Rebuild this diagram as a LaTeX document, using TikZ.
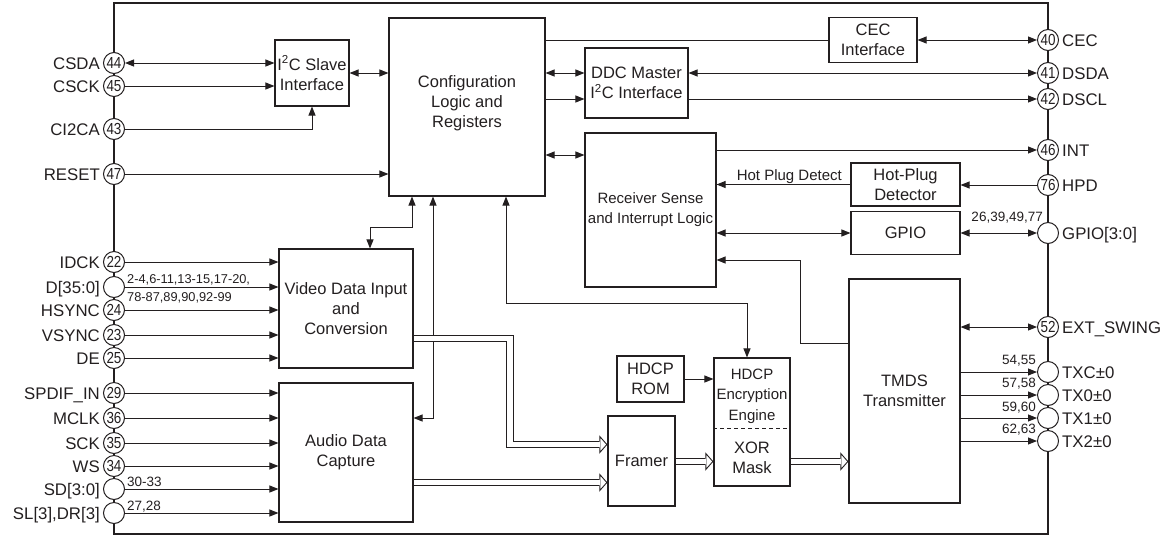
\documentclass[tikz,border=0pt]{standalone}
\usepackage{fontspec}
\setmainfont{Liberation Sans}
\newfontfamily\pinnumfont[FakeStretch=0.84]{Liberation Sans}
\usetikzlibrary{arrows.meta,positioning}
\definecolor{ink}{RGB}{35,31,32}
\begin{document}
\begin{tikzpicture}[x=1pt,y=-1pt,
  every node/.style={text=ink},
  blk/.style={draw=ink, line width=1.1pt, align=center, inner sep=0pt, font=\fontsize{16.5}{20}\selectfont},
  txt/.style={inner sep=0pt, align=center, font=\fontsize{16.5}{20}\selectfont},
  pincirc/.style={circle, draw=ink, line width=1pt, fill=white, minimum size=21pt, inner sep=0pt, font=\pinnumfont\fontsize{16}{16}\selectfont},
  lbl/.style={inner sep=0pt, font=\fontsize{16.8}{20}\selectfont, text height=12pt, text depth=0pt},
  num/.style={inner sep=0pt, font=\fontsize{13.5}{14}\selectfont},
  conn/.style={draw=ink, line width=1pt},
  hollow/.style={
    postaction={draw=ink, line width=0.9pt, -{Triangle[open,length=8pt,width=18pt]}},
    postaction={draw=ink, line width=7.8pt, shorten >=8pt},
    postaction={draw=white, line width=5.8pt, shorten >=7.2pt, shorten <=0.8pt}},
  >={Triangle[length=9pt,width=7pt]},
]
\useasboundingbox (0,0) rectangle (1166,536);
\draw[ink, line width=1.3pt] (114,3) rectangle (1048,534);

% blocks
\node[blk, minimum width=74pt, minimum height=66pt] (i2c) at (312,73) {I\textsuperscript{2}C Slave\\Interface};
\node[blk, minimum width=156pt, minimum height=178pt] (config) at (467,107) {};
\node[txt] (configtxt) at (467,103) {Configuration\\Logic and\\Registers};
\node[blk, minimum width=88pt, minimum height=45pt] (cec) at (873,40) {CEC\\Interface};
\node[blk, minimum width=103pt, minimum height=70pt] (ddc) at (636.5,83) {DDC Master\\I\textsuperscript{2}C Interface};
\node[blk, minimum width=131pt, minimum height=154pt, font=\fontsize{15}{20}\selectfont] (recv) at (650.5,210) {Receiver Sense\\and Interrupt Logic};
\node[blk, minimum width=109pt, minimum height=43pt] (hpdet) at (905.5,184.5) {Hot-Plug\\Detector};
\node[blk, minimum width=109pt, minimum height=43pt] (gpio) at (905.5,233) {GPIO};
\node[blk, minimum width=111pt, minimum height=224pt] (tmds) at (904.5,391) {TMDS\\Transmitter};
\node[blk, minimum width=134pt, minimum height=119pt] (video) at (346,308.5) {Video Data Input\\and\\Conversion};
\node[blk, minimum width=134pt, minimum height=139pt] (audio) at (346,452.5) {Audio Data\\Capture};
\node[blk, minimum width=67pt, minimum height=46pt] (rom) at (650.5,379) {HDCP\\ROM};
\node[blk, minimum width=76pt, minimum height=128pt] (enc) at (752,422) {};
\node[txt, font=\fontsize{15}{20.5}\selectfont] (enctxt) at (752,396) {HDCP\\Encryption\\Engine};
\node[txt] (xortxt) at (752,458) {XOR\\Mask};
\node[blk, minimum width=67pt, minimum height=90pt] (framer) at (641.5,461) {Framer};
\draw[ink, line width=0.9pt, dash pattern=on 4pt off 3pt] (enc.west |- 0,428) -- (enc.east |- 0,428);

% left pins
\node[pincirc] (p44) at (114,63) {44};
\node[pincirc] (p45) at (114,86) {45};
\node[pincirc] (p43) at (114,129) {43};
\node[pincirc] (p47) at (114,174) {47};
\node[pincirc] (p22) at (114,262) {22};
\node[pincirc] (pD) at (114,287) {};
\node[pincirc] (p24) at (114,310) {24};
\node[pincirc] (p23) at (114,335) {23};
\node[pincirc] (p25) at (114,358) {25};
\node[pincirc] (p29) at (114,393) {29};
\node[pincirc] (p36) at (114,418) {36};
\node[pincirc] (p35) at (114,443) {35};
\node[pincirc] (p34) at (114,466) {34};
\node[pincirc] (pSD) at (114,489) {};
\node[pincirc] (pSL) at (114,513) {};

\node[lbl, left=3pt of p44] (l44) {CSDA};
\node[lbl, left=3pt of p45] (l45) {CSCK};
\node[lbl, left=3pt of p43] (l43) {CI2CA};
\node[lbl, left=3pt of p47] (l47) {RESET};
\node[lbl, left=3pt of p22] (l22) {IDCK};
\node[lbl, left=3pt of pD] (lD) {D[35:0]};
\node[lbl, left=3pt of p24] (l24) {HSYNC};
\node[lbl, left=3pt of p23] (l23) {VSYNC};
\node[lbl, left=3pt of p25] (l25) {DE};
\node[lbl, left=3pt of p29] (l29) {SPDIF\_IN};
\node[lbl, left=3pt of p36] (l36) {MCLK};
\node[lbl, left=3pt of p35] (l35) {SCK};
\node[lbl, left=3pt of p34] (l34) {WS};
\node[lbl, left=3pt of pSD] (lSD) {SD[3:0]};
\node[lbl, left=3pt of pSL] (lSL) {SL[3],DR[3]};

\node[num, font=\fontsize{12.8}{14}\selectfont, anchor=base west] (nD1) at (127,283) {2-4,6-11,13-15,17-20,};
\node[num, font=\fontsize{12.8}{14}\selectfont, anchor=base west] (nD2) at (127,301) {78-87,89,90,92-99};
\node[num, anchor=base west] (nSD) at (127,486) {30-33};
\node[num, anchor=base west] (nSL) at (127,510) {27,28};

% right pins
\node[pincirc] (p40) at (1048,40) {40};
\node[pincirc] (p41) at (1048,73) {41};
\node[pincirc] (p42) at (1048,99) {42};
\node[pincirc] (p46) at (1048,150) {46};
\node[pincirc] (p76) at (1048,185) {76};
\node[pincirc] (pG) at (1048,233) {};
\node[pincirc] (p52) at (1048,327) {52};
\node[pincirc] (pTXC) at (1048,372) {};
\node[pincirc] (pTX0) at (1048,395) {};
\node[pincirc] (pTX1) at (1048,418) {};
\node[pincirc] (pTX2) at (1048,441) {};

\node[lbl, right=3pt of p40] (l40) {CEC};
\node[lbl, right=3pt of p41] (l41) {DSDA};
\node[lbl, right=3pt of p42] (l42) {DSCL};
\node[lbl, right=3pt of p46] (l46) {INT};
\node[lbl, right=3pt of p76] (l76) {HPD};
\node[lbl, right=3pt of pG] (lG) {GPIO[3:0]};
\node[lbl, right=3pt of p52] (l52) {EXT\_SWING};
\node[lbl, right=3pt of pTXC] (lTXC) {TXC±0};
\node[lbl, right=3pt of pTX0] (lTX0) {TX0±0};
\node[lbl, right=3pt of pTX1] (lTX1) {TX1±0};
\node[lbl, right=3pt of pTX2] (lTX2) {TX2±0};

\node[num, anchor=base east] (nG) at (1043,221) {26,39,49,77};
\node[num, anchor=base east] (nTXC) at (1036,364) {54,55};
\node[num, anchor=base east] (nTX0) at (1036,387) {57,58};
\node[num, anchor=base east] (nTX1) at (1036,411) {59,60};
\node[num, anchor=base east] (nTX2) at (1036,433) {62,63};

% connectors: left side
\draw[conn,<->] (p44) -- (p44 -| i2c.west);
\draw[conn,->] (p45) -- (p45 -| i2c.west);
\draw[conn,->] (p43) -| (i2c.south);
\draw[conn,->] (p47) -- (p47 -| config.west);
\draw[conn,<->] (i2c.east) -- (i2c.east -| config.west);
\draw[conn,->] (p22) -- (p22 -| video.west);
\draw[conn,->] (pD) -- (pD -| video.west);
\draw[conn,->] (p24) -- (p24 -| video.west);
\draw[conn,->] (p23) -- (p23 -| video.west);
\draw[conn,->] (p25) -- (p25 -| video.west);
\draw[conn,->] (p29) -- (p29 -| audio.west);
\draw[conn,->] (p36) -- (p36 -| audio.west);
\draw[conn,->] (p35) -- (p35 -| audio.west);
\draw[conn,->] (p34) -- (p34 -| audio.west);
\draw[conn,->] (pSD) -- (pSD -| audio.west);
\draw[conn,->] (pSL) -- (pSL -| audio.west);

% config and upper right
\draw[conn] (config.east |- cec.west) -- (cec.west);
\draw[conn,<->] (cec.east) -- (p40);
\draw[conn,<->] (config.east |- p41) -- (ddc.west |- p41);
\draw[conn,->] (config.east |- p42) -- (ddc.west |- p42);
\draw[conn,<->] (ddc.east |- p41) -- (p41);
\draw[conn,->] (ddc.east |- p42) -- (p42);
\draw[conn,<->] (config.east |- 0,155) -- (recv.west |- 0,155);
\draw[conn,->] (recv.east |- p46) -- (p46);
\draw[conn,->] (p76) -- (p76 -| hpdet.east);
\draw[conn,->] (hpdet.west) -- (hpdet.west -| recv.east);
\node[num, font=\fontsize{15}{16}\selectfont, anchor=base east] (hpdlbl) at (842,180) {Hot Plug Detect};
\draw[conn,<->] (recv.east |- gpio.west) -- (gpio.west);
\draw[conn,<->] (gpio.east) -- (pG);
\draw[conn,->] (tmds.west |- 0,343) -| (800,260) -- (recv.east |- 0,260);
\draw[conn,<->] (tmds.east |- p52) -- (p52);
\draw[conn,->] (tmds.east |- pTXC) -- (pTXC);
\draw[conn,->] (tmds.east |- pTX0) -- (pTX0);
\draw[conn,->] (tmds.east |- pTX1) -- (pTX1);
\draw[conn,->] (tmds.east |- pTX2) -- (pTX2);

% config bottom links
\draw[conn,<->] (config.south -| 412,0) -- (412,227) -| (video.north -| 370,0);
\draw[conn,<->] (audio.east |- 0,418) -| (config.south -| 433,0);
\draw[conn,<->] (config.south -| 506,0) |- (747,303) -- (enc.north -| 747,0);
\draw[conn,->] (rom.east) -- (rom.east -| enc.west);

% data paths
\path[hollow] (video.east |- 0,338.5) -- (510,338.5) -- (510,444.5) -- (framer.west |- 0,444.5);
\path[hollow] (audio.east |- 0,482.5) -- (framer.west |- 0,482.5);
\path[hollow] (framer.east |- 0,461.5) -- (enc.west |- 0,461.5);
\path[hollow] (enc.east |- 0,461.5) -- (tmds.west |- 0,461.5);
\end{tikzpicture}
\end{document}
